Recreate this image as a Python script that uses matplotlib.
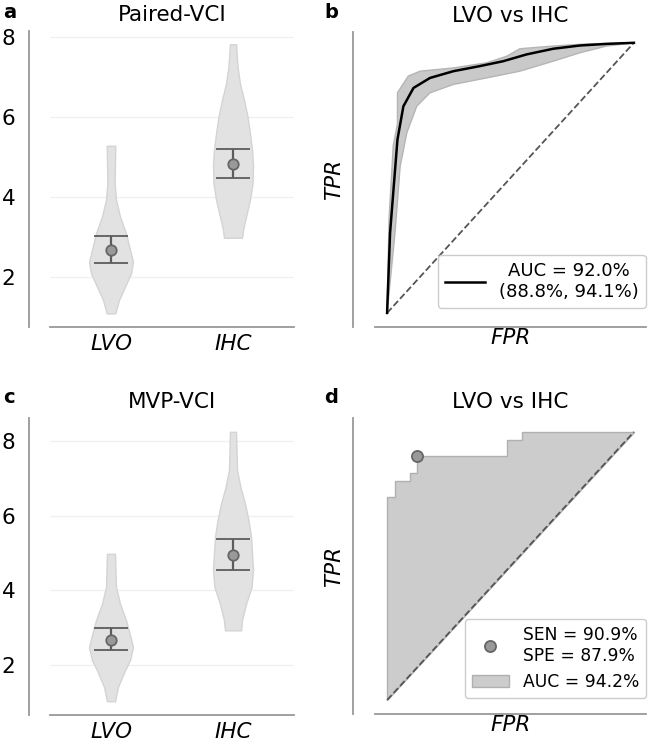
import matplotlib
matplotlib.use("Agg")
import matplotlib.pyplot as plt
import numpy as np
from matplotlib.patches import Patch
from matplotlib.lines import Line2D

# ---------------- data ----------------
categories = ["LVO", "IHC"]

# violin outlines: (value, half-width in category units)
a_lvo_vals = [1.09, 1.43, 1.76, 2.09, 2.38, 2.68, 3.09, 3.51, 3.93, 4.34, 5.28]
a_lvo_half = [0.035, 0.066, 0.115, 0.164, 0.180, 0.156, 0.123, 0.074, 0.041, 0.030, 0.035]
a_ihc_vals = [2.98, 3.18, 3.51, 3.93, 4.34, 4.80, 5.18, 5.59, 6.01, 6.43, 6.84, 7.26, 7.82]
a_ihc_half = [0.074, 0.082, 0.107, 0.139, 0.160, 0.164, 0.156, 0.139, 0.119, 0.090, 0.057, 0.037, 0.025]

c_lvo_vals = [1.03, 1.41, 1.86, 2.13, 2.48, 2.75, 3.20, 3.64, 4.09, 4.98]
c_lvo_half = [0.033, 0.057, 0.115, 0.156, 0.180, 0.160, 0.123, 0.074, 0.041, 0.033]
c_ihc_vals = [2.93, 3.20, 3.64, 4.09, 4.54, 5.43, 5.88, 6.33, 6.77, 7.22, 8.25]
c_ihc_half = [0.066, 0.074, 0.107, 0.152, 0.164, 0.148, 0.127, 0.098, 0.061, 0.033, 0.025]

a_means = [2.68, 4.82]
a_lo = [2.35, 4.48]
a_hi = [3.03, 5.20]
c_means = [2.67, 4.94]
c_lo = [2.40, 4.54]
c_hi = [2.98, 5.37]

# panel b: mean ROC and CI band
roc_fpr = [0.0, 0.012, 0.042, 0.066, 0.107, 0.174, 0.269, 0.377, 0.471, 0.565, 0.673, 0.781, 0.889, 1.0]
roc_tpr = [0.0, 0.296, 0.642, 0.765, 0.833, 0.870, 0.895, 0.914, 0.932, 0.957, 0.978, 0.990, 0.996, 1.0]
band_up_fpr = [0.0, 0.008, 0.025, 0.042, 0.042, 0.086, 0.134, 0.269, 0.403, 0.484, 0.538, 0.673, 0.808, 1.0]
band_up_tpr = [0.0, 0.35, 0.62, 0.70, 0.815, 0.877, 0.895, 0.907, 0.926, 0.950, 0.978, 0.988, 0.996, 1.0]
band_lo_fpr = [0.0, 0.032, 0.053, 0.080, 0.120, 0.174, 0.269, 0.403, 0.538, 0.673, 0.781, 0.889, 1.0]
band_lo_tpr = [0.0, 0.296, 0.543, 0.667, 0.765, 0.815, 0.846, 0.870, 0.895, 0.932, 0.963, 0.988, 1.0]

# panel d: step ROC (33 positives / 33 negatives)
d_fpr = [0, 0, 1, 1, 3, 3, 4, 4, 16, 16, 18, 18, 33]
d_tpr = [0, 25, 25, 27, 27, 28, 28, 30, 30, 32, 32, 33, 33]
d_n = 33
op_fpr = 4 / 33
op_tpr = 30 / 33

titles = ["Paired-VCI", "LVO vs IHC", "MVP-VCI", "LVO vs IHC"]
labels_b = "AUC = 92.0%\n(88.8%, 94.1%)"
labels_d = ["SEN = 90.9%\nSPE = 87.9%", "AUC = 94.2%"]

# ---------------- style ----------------
FS = 15.5
SPINE = "#999999"
VIOLIN_FC = "#e2e2e2"
VIOLIN_EC = "#d4d4d4"
EB_C = "#5c5c5c"

fig = plt.figure(figsize=(6.49, 7.42), dpi=100)
W, H = 649, 742

def ax_at(x0, y0, x1, y1):
    return fig.add_axes([x0 / W, 1 - y1 / H, (x1 - x0) / W, (y1 - y0) / H])

ax_a = ax_at(50, 31, 294, 327)
ax_b = ax_at(375, 32, 646, 327)
ax_c = ax_at(50, 418, 294, 715)
ax_d = ax_at(375, 418, 646, 714)

def style_axes(ax):
    for s in ["top", "right"]:
        ax.spines[s].set_visible(False)
    for s in ["left", "bottom"]:
        ax.spines[s].set_color(SPINE)
        ax.spines[s].set_linewidth(1.3)
    ax.spines["left"].set_position(("outward", 15))
    ax.tick_params(length=0, labelsize=FS)
    ax.tick_params(axis="y", pad=10)
    ax.tick_params(axis="x", pad=5)

def violin_panel(ax, vl, hl, vi, hi_, means, lo, hi, ylim, title):
    style_axes(ax)
    for pos, (vals, half) in enumerate([(vl, hl), (vi, hi_)]):
        v = np.array(vals)
        h = np.array(half)
        ax.fill_betweenx(v, pos - h, pos + h, facecolor=VIOLIN_FC,
                         edgecolor=VIOLIN_EC, linewidth=1.0, zorder=2)
    x = np.arange(len(categories))
    m = np.array(means)
    yerr = np.vstack([m - np.array(lo), np.array(hi) - m])
    ax.errorbar(x, m, yerr=yerr, fmt="o", color=EB_C, ecolor=EB_C,
                elinewidth=1.6, capsize=12, capthick=1.6,
                markersize=7.5, markerfacecolor="#999999",
                markeredgecolor="#666666", markeredgewidth=1.3, zorder=4)
    ax.set_xlim(-0.5, 1.5)
    ax.set_ylim(*ylim)
    ax.set_yticks([2, 4, 6, 8])
    ax.set_xticks(x)
    ax.set_xticklabels(categories, fontstyle="italic")
    ax.yaxis.grid(True, color="#f0f0f0", linewidth=1.0, zorder=0)
    ax.set_axisbelow(True)
    ax.set_title(title, fontsize=FS, pad=7)

violin_panel(ax_a, a_lvo_vals, a_lvo_half, a_ihc_vals, a_ihc_half,
             a_means, a_lo, a_hi, (0.75, 8.15), titles[0])
violin_panel(ax_c, c_lvo_vals, c_lvo_half, c_ihc_vals, c_ihc_half,
             c_means, c_lo, c_hi, (0.66, 8.62), titles[2])

# panel b
style_axes(ax_b)
ax_b.spines["left"].set_position(("outward", 16))
poly_x = band_up_fpr + band_lo_fpr[::-1]
poly_y = band_up_tpr + band_lo_tpr[::-1]
ax_b.fill(poly_x, poly_y, facecolor="#c9c9c9", edgecolor="#b5b5b5",
          linewidth=1.0, zorder=2)
ax_b.plot([0, 1], [0, 1], linestyle="--", color="#555555", linewidth=1.3, zorder=1)
ax_b.plot(roc_fpr, roc_tpr, color="black", linewidth=1.8, zorder=3,
          label=labels_b)
ax_b.set_xlim(-0.049, 1.049)
ax_b.set_ylim(-0.052, 1.04)
ax_b.set_xticks([])
ax_b.set_yticks([])
ax_b.set_xlabel("FPR", fontsize=FS, fontstyle="italic", labelpad=1)
ax_b.set_ylabel("TPR", fontsize=FS, fontstyle="italic", labelpad=6)
ax_b.set_title(titles[1], fontsize=FS, pad=7)
leg_b = ax_b.legend(loc="lower right", bbox_to_anchor=(1.0, 19 / 295),
                    fontsize=13, frameon=True, fancybox=True,
                    edgecolor="#cccccc", framealpha=1,
                    handlelength=2.2, borderaxespad=0)
for t in leg_b.get_texts():
    t.set_multialignment("center")

# panel d
style_axes(ax_d)
ax_d.spines["left"].set_position(("outward", 16))
dfx = np.array(d_fpr) / d_n
dfy = np.array(d_tpr) / d_n
ax_d.fill(np.append(dfx, 0), np.append(dfy, 0), facecolor="#cccccc",
          edgecolor="#b0b0b0", linewidth=1.0, zorder=2)
ax_d.plot([0, 1], [0, 1], linestyle="--", color="#555555", linewidth=1.3, zorder=3)
ax_d.plot([op_fpr], [op_tpr], "o", markersize=8, markerfacecolor="#999999",
          markeredgecolor="#666666", markeredgewidth=1.3, zorder=4)
ax_d.set_xlim(-0.049, 1.049)
ax_d.set_ylim(-0.052, 1.052)
ax_d.set_xticks([])
ax_d.set_yticks([])
ax_d.set_xlabel("FPR", fontsize=FS, fontstyle="italic", labelpad=1)
ax_d.set_ylabel("TPR", fontsize=FS, fontstyle="italic", labelpad=6)
ax_d.set_title(titles[3], fontsize=FS, pad=7)
h1 = Line2D([], [], linestyle="none", marker="o", markersize=8,
            markerfacecolor="#999999", markeredgecolor="#666666", markeredgewidth=1.3)
h2 = Patch(facecolor="#cccccc", edgecolor="#b0b0b0")
ax_d.legend([h1, h2], labels_d, loc="lower right",
            bbox_to_anchor=(1.0, 16 / 296), fontsize=12.3, frameon=True,
            fancybox=True, edgecolor="#cccccc", framealpha=1,
            handlelength=2.2, borderaxespad=0)

# panel letters
for letter, (x, y) in zip("abcd", [(3, 3), (324, 3), (3, 388), (324, 388)]):
    fig.text(x / W, 1 - y / H, letter, fontsize=14, fontweight="bold",
             ha="left", va="top")

fig.savefig("out.png", dpi=100)
